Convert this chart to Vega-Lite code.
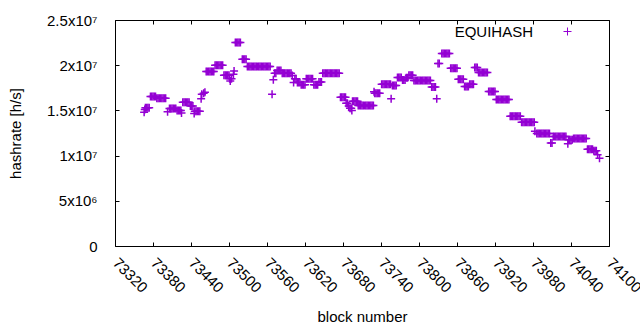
{
"$schema": "https://vega.github.io/schema/vega-lite/v6.json",
"width": 494, "height": 226,
"autosize": {"type": "none"},
"padding": {"left": 115, "top": 20, "right": 31, "bottom": 84},
"background": "white",
"config": {
  "view": {"stroke": "black", "strokeWidth": 1},
  "font": "Liberation Sans",
  "axis": {"labelFont": "Liberation Sans", "labelFontSize": 15, "labelColor": "black", "titleFont": "Liberation Sans", "titleFontSize": 15, "titleFontWeight": "normal", "titleColor": "black", "tickColor": "black", "tickWidth": 1, "tickSize": -4, "grid": false, "domain": false, "labelOverlap": false, "labelFlush": false, "labelBound": false}
},
"data": {"values": [
{"b":73366,"h":14.8},{"b":73367,"h":15.1},{"b":73368,"h":15.3},{"b":73370,"h":15.3},{"b":73372,"h":15.3},{"b":73374,"h":15.3},
{"b":73376,"h":16.55},{"b":73378,"h":16.55},{"b":73380,"h":16.55},{"b":73382,"h":16.55},{"b":73384,"h":16.55},
{"b":73386,"h":16.35},{"b":73388,"h":16.35},{"b":73390,"h":16.35},{"b":73392,"h":16.35},{"b":73394,"h":16.35},{"b":73396,"h":16.35},{"b":73398,"h":16.35},{"b":73400,"h":16.35},
{"b":73403,"h":14.85},{"b":73406,"h":15.2},{"b":73408,"h":15.2},{"b":73410,"h":15.2},{"b":73412,"h":15.2},{"b":73414,"h":15.2},{"b":73416,"h":15.2},
{"b":73418,"h":15.0},{"b":73420,"h":15.0},{"b":73422,"h":15.0},{"b":73424,"h":15.0},{"b":73425,"h":14.7},
{"b":73427,"h":15.9},{"b":73429,"h":15.9},{"b":73431,"h":15.9},{"b":73433,"h":15.9},{"b":73435,"h":15.9},{"b":73437,"h":15.9},
{"b":73439,"h":15.5},{"b":73441,"h":15.5},{"b":73443,"h":15.5},{"b":73445,"h":14.65},
{"b":73446,"h":14.9},{"b":73448,"h":14.9},{"b":73450,"h":14.9},{"b":73452,"h":14.9},{"b":73454,"h":14.9},
{"b":73456,"h":16.3},{"b":73457,"h":16.8},{"b":73460,"h":16.9},{"b":73462,"h":17.0},
{"b":73464,"h":19.3},{"b":73466,"h":19.3},{"b":73468,"h":19.3},{"b":73470,"h":19.3},{"b":73472,"h":19.3},{"b":73474,"h":19.3},{"b":73476,"h":19.3},
{"b":73478,"h":20.0},{"b":73480,"h":20.0},{"b":73482,"h":20.0},{"b":73484,"h":20.0},{"b":73486,"h":20.0},{"b":73488,"h":20.0},{"b":73490,"h":20.0},
{"b":73492,"h":18.9},{"b":73494,"h":18.9},{"b":73496,"h":18.9},{"b":73498,"h":18.9},{"b":73500,"h":18.9},
{"b":73501,"h":18.5},{"b":73502,"h":18.25},{"b":73504,"h":18.5},{"b":73507,"h":19.0},{"b":73508,"h":19.35},
{"b":73510,"h":22.5},{"b":73512,"h":22.5},{"b":73514,"h":22.5},{"b":73516,"h":22.5},{"b":73518,"h":22.5},
{"b":73521,"h":20.65},{"b":73523,"h":20.65},{"b":73525,"h":20.65},{"b":73527,"h":20.65},
{"b":73529,"h":19.85},{"b":73531,"h":19.85},{"b":73533,"h":19.85},{"b":73535,"h":19.85},{"b":73537,"h":19.85},{"b":73539,"h":19.85},{"b":73541,"h":19.85},{"b":73543,"h":19.85},{"b":73545,"h":19.85},{"b":73547,"h":19.85},{"b":73549,"h":19.85},{"b":73551,"h":19.85},{"b":73553,"h":19.85},{"b":73555,"h":19.85},{"b":73557,"h":19.85},{"b":73559,"h":19.85},{"b":73561,"h":19.85},{"b":73563,"h":19.85},{"b":73565,"h":19.85},
{"b":73568,"h":16.8},{"b":73570,"h":18.4},
{"b":73572,"h":19.1},{"b":73574,"h":19.1},{"b":73576,"h":19.4},{"b":73578,"h":19.4},{"b":73580,"h":19.4},{"b":73582,"h":19.4},
{"b":73584,"h":19.1},{"b":73586,"h":19.1},{"b":73588,"h":19.1},{"b":73590,"h":19.1},{"b":73592,"h":19.1},{"b":73594,"h":19.1},{"b":73596,"h":19.1},{"b":73598,"h":19.1},
{"b":73600,"h":18.85},{"b":73602,"h":18.1},{"b":73604,"h":18.5},{"b":73606,"h":18.5},{"b":73608,"h":18.1},{"b":73610,"h":18.1},{"b":73612,"h":18.1},
{"b":73614,"h":17.85},{"b":73616,"h":17.85},{"b":73618,"h":17.85},{"b":73620,"h":17.85},
{"b":73622,"h":18.5},{"b":73624,"h":18.5},{"b":73626,"h":18.5},{"b":73628,"h":18.5},{"b":73630,"h":18.5},{"b":73632,"h":18.5},
{"b":73634,"h":17.85},{"b":73636,"h":17.85},{"b":73638,"h":17.85},{"b":73640,"h":17.85},
{"b":73642,"h":18.15},{"b":73644,"h":18.15},{"b":73646,"h":18.15},
{"b":73648,"h":19.1},{"b":73650,"h":19.1},{"b":73652,"h":19.1},{"b":73654,"h":19.1},{"b":73656,"h":19.1},{"b":73658,"h":19.1},{"b":73660,"h":19.1},{"b":73662,"h":19.1},{"b":73664,"h":19.1},{"b":73666,"h":19.1},{"b":73668,"h":19.1},{"b":73670,"h":19.1},{"b":73672,"h":19.1},{"b":73674,"h":19.1},
{"b":73676,"h":16.45},{"b":73678,"h":16.45},{"b":73680,"h":16.45},{"b":73682,"h":16.45},{"b":73684,"h":16.45},
{"b":73685,"h":15.8},{"b":73687,"h":15.8},{"b":73689,"h":15.5},{"b":73691,"h":15.25},{"b":73693,"h":15.25},{"b":73694,"h":15.0},
{"b":73695,"h":16.0},{"b":73697,"h":16.0},{"b":73699,"h":16.0},{"b":73701,"h":16.0},{"b":73703,"h":16.0},
{"b":73704,"h":15.55},{"b":73706,"h":15.55},{"b":73708,"h":15.55},{"b":73710,"h":15.55},{"b":73712,"h":15.55},{"b":73714,"h":15.55},{"b":73716,"h":15.55},{"b":73718,"h":15.55},{"b":73720,"h":15.55},{"b":73722,"h":15.55},{"b":73724,"h":15.55},{"b":73726,"h":15.55},{"b":73728,"h":15.55},
{"b":73729,"h":17.05},{"b":73730,"h":16.9},{"b":73732,"h":16.9},{"b":73734,"h":16.9},{"b":73736,"h":16.9},{"b":73738,"h":16.9},
{"b":73741,"h":17.9},{"b":73743,"h":17.9},{"b":73745,"h":17.9},{"b":73747,"h":17.9},{"b":73749,"h":17.9},{"b":73751,"h":17.9},{"b":73753,"h":17.9},{"b":73755,"h":17.9},
{"b":73756,"h":16.3},{"b":73758,"h":17.75},{"b":73760,"h":17.75},{"b":73762,"h":17.75},{"b":73764,"h":17.75},
{"b":73766,"h":18.65},{"b":73768,"h":18.65},{"b":73770,"h":18.65},{"b":73772,"h":18.65},
{"b":73774,"h":18.35},{"b":73776,"h":18.35},{"b":73778,"h":18.35},{"b":73780,"h":18.6},{"b":73782,"h":18.6},
{"b":73784,"h":18.9},{"b":73786,"h":18.9},{"b":73788,"h":18.9},{"b":73790,"h":18.9},
{"b":73792,"h":18.3},{"b":73794,"h":18.3},{"b":73796,"h":18.3},{"b":73798,"h":18.3},{"b":73800,"h":18.3},{"b":73802,"h":18.3},{"b":73804,"h":18.3},{"b":73806,"h":18.3},{"b":73808,"h":18.3},{"b":73810,"h":18.3},{"b":73812,"h":18.3},{"b":73814,"h":18.3},{"b":73816,"h":18.3},{"b":73818,"h":18.3},
{"b":73820,"h":17.6},{"b":73822,"h":17.6},{"b":73824,"h":17.6},{"b":73826,"h":17.6},{"b":73828,"h":16.3},{"b":73830,"h":20.2},{"b":73832,"h":20.2},
{"b":73836,"h":21.3},{"b":73838,"h":21.3},{"b":73840,"h":21.3},{"b":73842,"h":21.3},{"b":73844,"h":21.3},{"b":73846,"h":21.3},{"b":73848,"h":21.3},
{"b":73850,"h":19.65},{"b":73852,"h":19.65},{"b":73854,"h":19.65},{"b":73856,"h":19.65},{"b":73858,"h":19.65},{"b":73860,"h":19.65},
{"b":73862,"h":18.45},{"b":73864,"h":18.45},{"b":73866,"h":18.45},{"b":73868,"h":18.45},{"b":73870,"h":18.45},
{"b":73872,"h":17.65},{"b":73874,"h":17.65},{"b":73876,"h":17.65},{"b":73878,"h":17.65},
{"b":73880,"h":17.9},{"b":73882,"h":17.9},{"b":73884,"h":17.9},{"b":73886,"h":17.9},
{"b":73888,"h":19.75},{"b":73890,"h":19.75},{"b":73892,"h":19.75},
{"b":73894,"h":19.2},{"b":73896,"h":19.2},{"b":73898,"h":19.2},{"b":73900,"h":19.2},{"b":73902,"h":19.2},{"b":73904,"h":19.2},{"b":73906,"h":19.2},{"b":73908,"h":19.2},
{"b":73910,"h":17.1},{"b":73912,"h":17.1},{"b":73914,"h":17.1},{"b":73916,"h":17.1},{"b":73918,"h":17.1},{"b":73920,"h":17.1},
{"b":73922,"h":16.2},{"b":73924,"h":16.2},{"b":73926,"h":16.2},{"b":73928,"h":16.2},{"b":73930,"h":16.2},{"b":73932,"h":16.2},{"b":73934,"h":16.2},{"b":73936,"h":16.2},{"b":73938,"h":16.2},{"b":73940,"h":16.2},{"b":73942,"h":16.2},
{"b":73944,"h":14.35},{"b":73946,"h":14.35},{"b":73948,"h":14.35},{"b":73950,"h":14.35},{"b":73952,"h":14.35},{"b":73954,"h":14.35},{"b":73956,"h":14.35},{"b":73958,"h":14.35},{"b":73960,"h":14.35},
{"b":73962,"h":13.7},{"b":73964,"h":13.7},{"b":73966,"h":13.7},{"b":73968,"h":13.7},{"b":73970,"h":13.7},{"b":73972,"h":13.7},{"b":73974,"h":13.7},{"b":73976,"h":13.7},{"b":73978,"h":13.7},{"b":73980,"h":13.7},{"b":73982,"h":13.7},
{"b":73983,"h":12.7},
{"b":73986,"h":12.45},{"b":73988,"h":12.45},{"b":73990,"h":12.45},{"b":73992,"h":12.45},{"b":73994,"h":12.45},{"b":73996,"h":12.45},{"b":73998,"h":12.45},{"b":74000,"h":12.45},{"b":74002,"h":12.45},{"b":74004,"h":12.45},{"b":74006,"h":12.45},
{"b":74008,"h":11.4},{"b":74010,"h":11.4},
{"b":74012,"h":12.1},{"b":74014,"h":12.1},{"b":74016,"h":12.1},{"b":74018,"h":12.1},{"b":74020,"h":12.1},{"b":74022,"h":12.1},{"b":74024,"h":12.1},{"b":74026,"h":12.1},{"b":74028,"h":12.1},{"b":74030,"h":12.1},{"b":74032,"h":12.1},
{"b":74035,"h":11.3},{"b":74036,"h":11.75},{"b":74038,"h":11.75},{"b":74040,"h":11.75},{"b":74042,"h":11.75},
{"b":74044,"h":11.9},{"b":74046,"h":11.9},{"b":74048,"h":11.9},{"b":74050,"h":11.9},{"b":74052,"h":11.9},{"b":74054,"h":11.9},{"b":74056,"h":11.9},{"b":74058,"h":11.9},{"b":74060,"h":11.9},{"b":74062,"h":11.9},{"b":74064,"h":11.9},
{"b":74066,"h":10.7},{"b":74068,"h":10.7},{"b":74070,"h":10.7},{"b":74072,"h":10.7},{"b":74074,"h":10.7},
{"b":74076,"h":10.55},{"b":74078,"h":10.55},{"b":74080,"h":10.55},{"b":74082,"h":10.1},{"b":74085,"h":9.7}
]},
"resolve": {"axis": {"x": "independent", "y": "independent"}},
"layer": [
  {
    "mark": {"type": "point", "shape": "M-1,0L1,0M0,-1L0,1", "size": 64, "filled": false, "strokeWidth": 1.5, "opacity": 1},
    "encoding": {
      "x": {"field": "b", "type": "quantitative", "scale": {"domain": [73320, 74100], "nice": false, "zero": false},
            "axis": {"orient": "bottom", "values": [73320,73380,73440,73500,73560,73620,73680,73740,73800,73860,73920,73980,74040,74100], "format": "d", "title": "block number", "labelAngle": 45, "labelAlign": "left", "labelBaseline": "middle", "labelPadding": 18, "titlePadding": 14}},
      "y": {"field": "h", "type": "quantitative", "scale": {"domain": [0, 25], "nice": false, "zero": true},
            "axis": {"orient": "left", "values": [0,5,10,15,20,25], "labelExpr": "datum.value==0?'0':datum.value<10?datum.value+'x10⁶':(datum.value/10)+'x10⁷'", "title": "hashrate [h/s]", "labelPadding": 22, "titlePadding": 23}},
      "color": {"datum": "EQUIHASH", "type": "nominal", "scale": {"range": ["#9400d3"]},
                "legend": {"orient": "none", "legendX": 445, "legendY": 4, "title": null, "padding": 0, "symbolType": "M-1,0L1,0M0,-1L0,1", "symbolSize": 64, "symbolStrokeWidth": 1, "labelFont": "Liberation Sans", "labelFontSize": 15, "labelColor": "black", "labelAlign": "right", "labelOffset": -42}}
    }
  },
  {
    "mark": {"type": "point", "opacity": 0},
    "encoding": {
      "x": {"field": "b", "type": "quantitative", "axis": {"orient": "top", "values": [73320,73380,73440,73500,73560,73620,73680,73740,73800,73860,73920,73980,74040,74100], "labels": false, "title": null}},
      "y": {"field": "h", "type": "quantitative", "axis": {"orient": "right", "values": [0,5,10,15,20,25], "labels": false, "title": null}}
    }
  }
]
}
